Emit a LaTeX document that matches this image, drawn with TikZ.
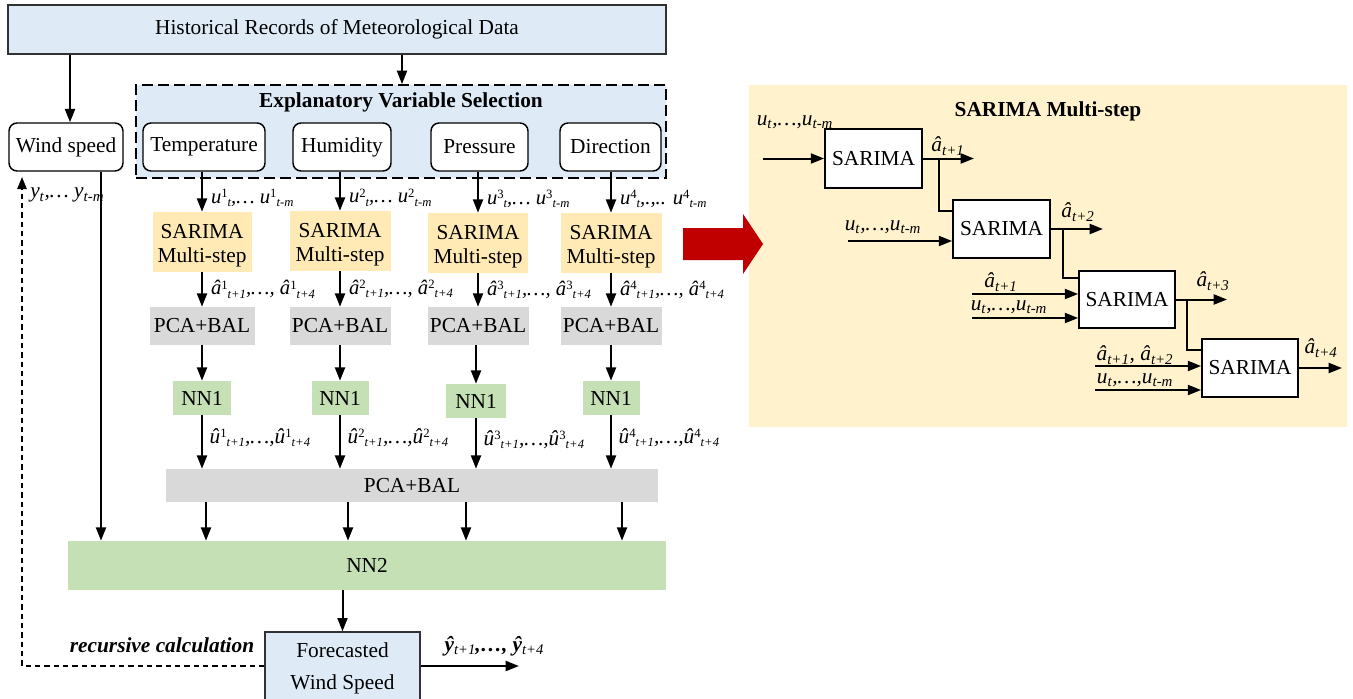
\documentclass[tikz,border=0pt]{standalone}
\usepackage{fontspec}
\setmainfont{Liberation Serif}
\usetikzlibrary{arrows.meta}
\definecolor{lblue}{RGB}{222,235,247}
\definecolor{syel}{RGB}{255,233,180}
\definecolor{pyel}{RGB}{255,242,204}
\definecolor{pgray}{RGB}{217,217,217}
\definecolor{ngreen}{RGB}{197,224,180}
\definecolor{dred}{RGB}{192,0,0}
\definecolor{bord}{RGB}{50,50,50}
\newcommand\spp[1]{\textsuperscript{#1}}
\newcommand\sbb[1]{\textsubscript{#1}}
\newcommand\lsp[1]{\raisebox{0.6ex}{\fontsize{9.5}{10}\selectfont\upshape #1}}
\newcommand\lsb[1]{\raisebox{-0.35ex}{\fontsize{9.5}{10}\selectfont #1}}
\newcommand\ysb[1]{\raisebox{-0.3ex}{\fontsize{11}{12}\selectfont #1}}
\newcommand\ulab[1]{u\lsp{#1}\lsb{t},… u\lsp{#1}\lsb{t-m}}
\newcommand\alab[1]{â\lsp{#1}\lsb{t+1},…, â\lsp{#1}\lsb{t+4}}
\newcommand\uhlab[1]{û\lsp{#1}\lsb{t+1},…,û\lsp{#1}\lsb{t+4}}
\newcommand\utm{u\sbb{t},…,u\sbb{t-m}}
\newcommand\smst{\raisebox{-3pt}[\height][\depth]{\begin{tabular}{@{}c@{}}SARIMA\\Multi-step\end{tabular}}}
\begin{document}
\begin{tikzpicture}[x=0.75pt,y=-0.75pt,
  font=\fontsize{16}{19}\selectfont,
  wh/.style 2 args={minimum width=#1*0.75pt, minimum height=#2*0.75pt},
  arr/.style={line width=1.5pt, -{Triangle[length=10pt,width=7.5pt]}},
  ln/.style={line width=1.5pt},
  base/.style={inner sep=0pt, align=center},
  topbox/.style={base, draw=bord, line width=0.8pt, fill=lblue},
  dashbox/.style={base, draw=black, line width=1.4pt, dash pattern=on 8.25pt off 3.75pt, fill=lblue},
  varbox/.style={base, draw=black, line width=1.1pt, fill=white, rounded corners=6pt},
  sbox/.style={base, fill=syel, font=\fontsize{16}{18}\selectfont},
  pbox/.style={base, fill=pgray},
  nbox/.style={base, fill=ngreen},
  sar/.style={base, draw=black, line width=1.3pt, fill=white},
  lab/.style={inner sep=0pt, font=\fontsize{16}{19}\selectfont\itshape},
  labl/.style={inner sep=0pt, font=\fontsize{15.5}{18}\selectfont\itshape},
  fbk/.style={line width=1.2pt, dash pattern=on 4pt off 3pt, -{Triangle[length=9pt,width=7pt]}}
]
\useasboundingbox (0,0) rectangle (1353,699);

% ---------- left part ----------
\node[topbox, wh={658}{49}] (top) at (337,29.5) {Historical Records of Meteorological Data};
\node[dashbox, wh={530}{93}] (evs) at (401,131.5) {};
\node[inner sep=0pt, font=\fontsize{16}{19}\selectfont\bfseries] (evst) at (401,102) {Explanatory Variable Selection};

\node[varbox, wh={114}{48}] (ws) at (66,147) {Wind speed};
\node[varbox, wh={122}{48}] (v1) at (204,147) {Temperature};
\node[varbox, wh={98}{48}] (v2) at (342,147) {Humidity};
\node[varbox, wh={97}{48}] (v3) at (479.5,147) {Pressure};
\node[varbox, wh={101}{48}] (v4) at (610.5,147) {Direction};

\node[sbox, wh={99}{60}] (m1) at (202,242) {\smst};
\node[sbox, wh={101}{60}] (m2) at (340,241) {\smst};
\node[sbox, wh={100}{60}] (m3) at (478,243) {\smst};
\node[sbox, wh={101}{60}] (m4) at (611,243) {\smst};

\node[pbox, wh={105}{38}] (p1) at (202,326) {PCA+BAL};
\node[pbox, wh={101}{38}] (p2) at (340,326) {PCA+BAL};
\node[pbox, wh={101}{38}] (p3) at (478,326) {PCA+BAL};
\node[pbox, wh={101}{38}] (p4) at (611,326) {PCA+BAL};

\node[nbox, wh={58}{34}] (n1) at (202,398) {NN1};
\node[nbox, wh={57}{34}] (n2) at (340,398) {NN1};
\node[nbox, wh={60}{34}] (n3) at (476,401) {NN1};
\node[nbox, wh={57}{34}] (n4) at (611,398) {NN1};

\node[pbox, wh={492}{33}] (bp) at (412,485.5) {PCA+BAL};
\node[nbox, wh={598}{49}] (nn2) at (367,565.5) {NN2};
\node[topbox, line width=1pt, wh={155}{72}] (fc) at (342.5,668) {Forecasted\\[5pt]Wind Speed};

% arrows top
\draw[arr] (70,0 |- top.south) -- (70,0 |- ws.north);
\draw[arr] (402,0 |- top.south) -- (402,0 |- evs.north);

% column arrows with labels
\draw[arr] (m1.north |- v1.south) -- (m1.north) node[labl, pos=0.66, anchor=west, xshift=6pt] (lu1) {\ulab{1}};
\draw[arr] (m2.north |- v2.south) -- (m2.north) node[labl, pos=0.66, anchor=west, xshift=6pt] (lu2) {\ulab{2}};
\draw[arr] (m3.north |- v3.south) -- (m3.north) node[labl, pos=0.66, anchor=west, xshift=6pt] (lu3) {\ulab{3}};
\draw[arr] (m4.north |- v4.south) -- (m4.north) node[labl, pos=0.66, anchor=west, xshift=6pt] (lu4) {u\lsp{4}\lsb{t},.,.. u\lsp{4}\lsb{t-m}};

\draw[arr] (m1.south) -- (p1.north) node[labl, midway, anchor=west, xshift=6pt] (la1) {\alab{1}};
\draw[arr] (m2.south) -- (p2.north) node[labl, midway, anchor=west, xshift=6pt] (la2) {\alab{2}};
\draw[arr] (m3.south) -- (p3.north) node[labl, midway, anchor=west, xshift=6pt] (la3) {\alab{3}};
\draw[arr] (m4.south) -- (p4.north) node[labl, midway, anchor=west, xshift=6pt] (la4) {\alab{4}};

\draw[arr] (p1.south) -- (n1.north);
\draw[arr] (p2.south) -- (n2.north);
\draw[arr] (p3.south -| n3.north) -- (n3.north);
\draw[arr] (p4.south) -- (n4.north);

\draw[arr] (n1.south) -- (n1.south |- bp.north) node[lab, pos=0.42, anchor=west, xshift=5pt] (lh1) {\uhlab{1}};
\draw[arr] (n2.south) -- (n2.south |- bp.north) node[lab, pos=0.42, anchor=west, xshift=5pt] (lh2) {\uhlab{2}};
\draw[arr] (n3.south) -- (n3.south |- bp.north) node[lab, pos=0.42, anchor=west, xshift=5pt] (lh3) {\uhlab{3}};
\draw[arr] (n4.south) -- (n4.south |- bp.north) node[lab, pos=0.42, anchor=west, xshift=5pt] (lh4) {\uhlab{4}};

\draw[arr] (206,0 |- bp.south) -- (206,0 |- nn2.north);
\draw[arr] (348,0 |- bp.south) -- (348,0 |- nn2.north);
\draw[arr] (466,0 |- bp.south) -- (466,0 |- nn2.north);
\draw[arr] (622,0 |- bp.south) -- (622,0 |- nn2.north);

\draw[arr] (101,0 |- ws.south) -- (101,0 |- nn2.north);
\draw[arr] (fc.north |- nn2.south) -- (fc.north);

\coordinate (fcout) at (519,666);
\draw[arr] (fc.east |- fcout) -- (fcout);
\node[inner sep=0pt, font=\fontsize{16}{19}\selectfont\bfseries\itshape] (ly) at (494,646) {ŷ\ysb{\mdseries t+1},…, ŷ\ysb{\mdseries t+4}};

\coordinate (fbend) at (22,177);
\draw[fbk] (fc.west |- fcout) -| (fbend);
\node[inner sep=0pt, font=\fontsize{16}{19}\selectfont\bfseries\itshape] (lrc) at (162,645) {recursive calculation};
\node[lab, anchor=west] (lyt) at (30,195) {y\sbb{t},… y\sbb{t-m}};

% ---------- right panel ----------
\node[base, fill=pyel, wh={598}{342}] (pan) at (1048,256) {};
\node[inner sep=0pt, font=\fontsize{16}{19}\selectfont\bfseries] (pant) at (1048,111) {SARIMA Multi-step};

\draw[fill=dred, draw=none] (683,228) -- (743,228) -- (743,214) -- (763,244) -- (743,274) -- (743,260) -- (683,260) -- cycle;

\node[sar, wh={97}{59}] (s1) at (873.5,158.5) {SARIMA};
\node[sar, wh={97}{58}] (s2) at (1001.5,229) {SARIMA};
\node[sar, wh={96}{57}] (s3) at (1127,299.5) {SARIMA};
\node[sar, wh={96}{58}] (s4) at (1250,368) {SARIMA};

\coordinate (i1) at (763,158.5);
\coordinate (o1) at (974,158.5);
\coordinate (b1) at (939,158.5);
\coordinate (i2) at (848,241);
\coordinate (o2) at (1103,229);
\coordinate (b2) at (1063,229);
\coordinate (i3a) at (972,294);
\coordinate (i3b) at (972,318);
\coordinate (o3) at (1227,299.5);
\coordinate (b3) at (1187,299.5);
\coordinate (i4a) at (1095,366);
\coordinate (i4b) at (1095,390);
\coordinate (o4) at (1342,368);

\draw[arr] (i1) -- (s1.west);
\draw[arr] (s1.east) -- (o1);
\draw[ln] (b1) |- (s2.west |- 0,211);
\draw[arr] (i2) -- (i2 -| s2.west);
\draw[arr] (s2.east) -- (o2);
\draw[ln] (b2) |- (s3.west |- 0,278);
\draw[arr] (i3a) -- (i3a -| s3.west);
\draw[arr] (i3b) -- (i3b -| s3.west);
\draw[arr] (s3.east) -- (o3);
\draw[ln] (b3) |- (s4.west |- 0,350);
\draw[arr] (i4a) -- (i4a -| s4.west);
\draw[arr] (i4b) -- (i4b -| s4.west);
\draw[arr] (s4.east) -- (o4);

\node[lab] (r1) at (795,122) {\utm};
\node[lab] (r2) at (948,146) {â\sbb{t+1}};
\node[lab] (r3) at (883,227) {\utm};
\node[lab] (r4) at (1078,212) {â\sbb{t+2}};
\node[lab] (r5) at (1001,282) {â\sbb{t+1}};
\node[lab] (r6) at (1009,307) {\utm};
\node[lab] (r7) at (1213,281) {â\sbb{t+3}};
\node[lab] (r8) at (1135,355) {â\sbb{t+1}, â\sbb{t+2}};
\node[lab] (r9) at (1135,380) {\utm};
\node[lab] (r10) at (1321,348) {â\sbb{t+4}};
\end{tikzpicture}
\end{document}
